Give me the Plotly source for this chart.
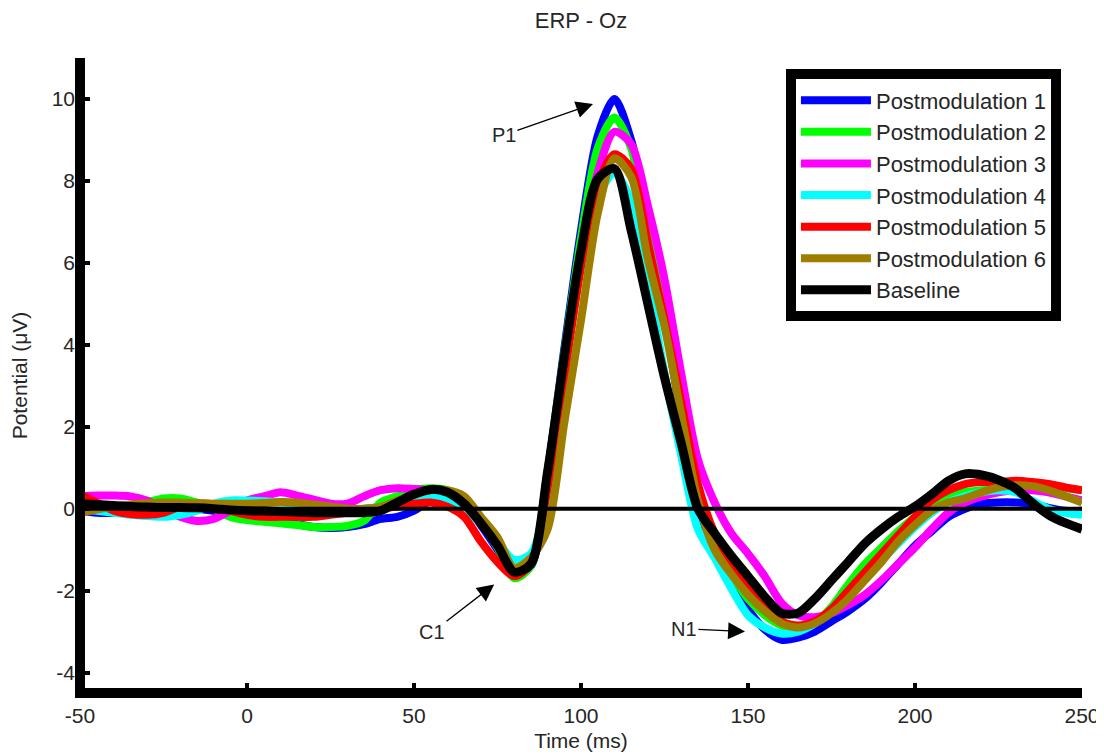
import plotly.graph_objects as go

time_ms = [-50, -45, -40, -35, -30, -25, -20, -15, -10, -5,
           0, 5, 10, 15, 20, 25, 30, 35, 40, 45,
           50, 55, 60, 65, 70, 75, 80, 85, 90, 95,
           100, 105, 110, 115, 120, 125, 130, 135, 140, 145,
           150, 155, 160, 165, 170, 175, 180, 185, 190, 195,
           200, 205, 210, 215, 220, 225, 230, 235, 240, 245, 250]

postmod1 = [-0.05, -0.1, -0.1, -0.05, 0.0, 0.05, 0.05, 0.0, -0.05, -0.1,
            -0.15, -0.25, -0.3, -0.38, -0.45, -0.47, -0.45, -0.38, -0.25, -0.2,
            -0.05, 0.2, 0.3, 0.1, -0.4, -1.0, -1.65, -1.4, 0.9, 3.9,
            6.8, 9.1, 10.0, 9.0, 7.1, 4.7, 2.2, -0.2, -1.0, -1.75,
            -2.45, -2.95, -3.2, -3.15, -3.0, -2.75, -2.5, -2.2, -1.8, -1.35,
            -0.9, -0.55, -0.2, 0.0, 0.12, 0.15, 0.15, 0.12, 0.02, -0.05, -0.05]

postmod2 = [0.0, 0.0, 0.0, 0.05, 0.15, 0.25, 0.25, 0.15, 0.0, -0.2,
            -0.28, -0.32, -0.36, -0.4, -0.45, -0.45, -0.42, -0.3, 0.15, 0.3,
            0.45, 0.5, 0.45, 0.2, -0.3, -0.95, -1.7, -1.4, 0.9, 3.8,
            6.6, 8.8, 9.55, 8.8, 6.7, 4.7, 2.5, 0.2, -0.9, -1.6,
            -2.2, -2.6, -2.85, -2.95, -2.8, -2.4, -1.85, -1.35, -0.95, -0.55,
            -0.2, 0.1, 0.3, 0.4, 0.45, 0.5, 0.55, 0.55, 0.55, 0.5, 0.45]

postmod3 = [0.3, 0.32, 0.32, 0.3, 0.2, 0.0, -0.2, -0.3, -0.25, -0.05,
            0.2, 0.3, 0.4, 0.32, 0.22, 0.12, 0.12, 0.3, 0.45, 0.5,
            0.48, 0.45, 0.4, 0.2, -0.3, -0.9, -1.5, -1.35, 0.6, 3.4,
            6.2, 8.2, 9.2, 8.9, 7.4, 5.6, 3.3, 1.2, 0.15, -0.6,
            -1.1, -1.65, -2.3, -2.6, -2.65, -2.55, -2.35, -2.1, -1.75, -1.35,
            -0.95, -0.5, -0.1, 0.15, 0.3, 0.4, 0.45, 0.45, 0.4, 0.3, 0.2]

postmod4 = [0.0, -0.05, -0.1, -0.15, -0.18, -0.2, -0.15, -0.05, 0.12, 0.2,
            0.2, 0.18, 0.15, 0.1, 0.0, -0.05, -0.05, 0.0, 0.05, 0.15,
            0.25, 0.3, 0.25, 0.0, -0.35, -0.8, -1.25, -1.1, 0.3, 3.3,
            6.0, 7.6, 8.2, 7.5, 5.6, 3.3, 1.3, -0.5, -1.2, -1.95,
            -2.6, -2.9, -3.05, -3.0, -2.8, -2.45, -2.05, -1.65, -1.25, -0.85,
            -0.45, -0.1, 0.15, 0.3, 0.4, 0.45, 0.4, 0.2, 0.0, -0.1, -0.15]

postmod5 = [0.35, 0.15, -0.05, -0.13, -0.15, -0.1, 0.05, 0.12, 0.1, -0.05,
            -0.15, -0.2, -0.2, -0.2, -0.2, -0.15, -0.1, -0.05, 0.0, 0.05,
            0.12, 0.15, 0.05, -0.2, -0.8, -1.3, -1.65, -1.35, 0.5, 3.2,
            5.9, 7.9, 8.65, 8.3, 6.5, 4.6, 2.6, 0.6, -0.6, -1.3,
            -1.95, -2.45, -2.75, -2.85, -2.75, -2.45, -2.0, -1.55, -1.1, -0.65,
            -0.2, 0.2, 0.45, 0.6, 0.65, 0.65, 0.68, 0.65, 0.6, 0.52, 0.45]

postmod6 = [-0.1, -0.02, 0.05, 0.1, 0.13, 0.15, 0.15, 0.13, 0.12, 0.12,
            0.12, 0.14, 0.16, 0.15, 0.1, 0.05, 0.0, 0.0, 0.05, 0.2,
            0.35, 0.45, 0.45, 0.3, -0.2, -0.7, -1.45, -1.2, -0.5, 2.1,
            4.6, 7.2, 8.55, 8.1, 6.1, 4.45, 2.3, 0.2, -1.0, -1.6,
            -2.1, -2.5, -2.8, -2.9, -2.8, -2.55, -2.2, -1.75, -1.3, -0.8,
            -0.4, -0.05, 0.15, 0.25, 0.4, 0.52, 0.57, 0.55, 0.45, 0.3, 0.15]

baseline = [0.12, 0.1, 0.08, 0.05, 0.04, 0.03, 0.03, 0.02, 0.0, -0.03,
            -0.05, -0.06, -0.07, -0.08, -0.1, -0.1, -0.1, -0.1, -0.05, 0.15,
            0.35, 0.47, 0.4, 0.12, -0.35, -0.9, -1.55, -1.35, 0.9, 3.7,
            6.3, 8.05, 8.3, 6.8, 5.0, 3.2, 1.6, 0.0, -0.6, -1.15,
            -1.65, -2.15, -2.55, -2.55, -2.2, -1.75, -1.3, -0.85, -0.5, -0.2,
            0.05, 0.35, 0.68, 0.85, 0.82, 0.7, 0.5, 0.15, -0.15, -0.35, -0.5]

series_names = ["Postmodulation 1", "Postmodulation 2", "Postmodulation 3",
                "Postmodulation 4", "Postmodulation 5", "Postmodulation 6", "Baseline"]
series_values = [postmod1, postmod2, postmod3, postmod4, postmod5, postmod6, baseline]
series_colors = ["#0000FF", "#00FF00", "#FF00FF", "#00FFFF", "#FF0000", "#9E7E00", "#000000"]

x_ticks = [-50, 0, 50, 100, 150, 200, 250]
y_ticks = [-4, -2, 0, 2, 4, 6, 8, 10]

# annotations: (label, tip_t, tip_v, text_t, text_v)
peak_labels = [("P1", 103.6, 9.88, 76.9, 9.12),
               ("C1", 74.0, -1.85, 55.4, -3.02),
               ("N1", 149.1, -3.0, 130.8, -2.93)]

TXT = "#262626"
FONT = "Liberation Sans, Arial, sans-serif"

# page body has an 8px margin, so the figure is 8px smaller than the window
W, H = 1096, 748

fig = go.Figure()
for name, vals, col in zip(series_names, series_values, series_colors):
    fig.add_trace(go.Scatter(
        x=time_ms, y=vals, mode="lines", name=name,
        line=dict(color=col, width=9 if name == "Baseline" else 8,
                  shape="spline", smoothing=0.8),
    ))

fig.add_hline(y=0, line=dict(color="black", width=4), layer="above")

# thick MATLAB-like spines
fig.add_shape(type="line", xref="paper", yref="paper", x0=0, x1=0, y0=-0.008, y1=1,
              line=dict(color="black", width=10), layer="above")
fig.add_shape(type="line", xref="paper", yref="paper", x0=0, x1=1, y0=0, y1=0,
              line=dict(color="black", width=10), layer="above")

for lab, tx, tv, ax, ay in peak_labels:
    fig.add_annotation(x=tx, y=tv, ax=ax, ay=ay, xref="x", yref="y", axref="x", ayref="y",
                       text=lab, showarrow=True, arrowhead=2, arrowsize=2.6, arrowwidth=1.3,
                       arrowcolor="black", font=dict(size=20, color=TXT, family=FONT))

fig.update_layout(
    width=W, height=H,
    margin=dict(l=72, r=22, t=50, b=63, autoexpand=False),
    paper_bgcolor="white", plot_bgcolor="white",
    font=dict(family=FONT, size=22, color=TXT),
    title=dict(text="ERP - Oz", x=0.5, xref="paper", xanchor="center",
               y=1 - 12 / H, yref="container", yanchor="middle",
               font=dict(size=22, color=TXT)),
    showlegend=True,
    legend=dict(x=0.979, y=0.982, xanchor="right", yanchor="top",
                bgcolor="white", bordercolor="black", borderwidth=10,
                itemwidth=70, font=dict(size=22, color=TXT), tracegroupgap=0),
    xaxis=dict(range=[-50, 250], tickvals=x_ticks, ticktext=[str(v) for v in x_ticks],
               ticks="inside", ticklen=10, tickwidth=4, tickcolor="black",
               showline=False, showgrid=False, zeroline=False,
               tickfont=dict(size=21, color=TXT), ticklabelstandoff=8,
               title=dict(text="Time (ms)", standoff=7, font=dict(size=21, color=TXT)),
               automargin=False),
    yaxis=dict(range=[-4.5, 11], tickvals=y_ticks, ticktext=[str(v) for v in y_ticks],
               ticks="inside", ticklen=10, tickwidth=4, tickcolor="black",
               showline=False, showgrid=False, zeroline=False,
               tickfont=dict(size=21, color=TXT), ticklabelstandoff=4,
               title=dict(text="Potential (μV)", standoff=18, font=dict(size=21, color=TXT)),
               automargin=False),
)

fig.write_html("out.html")
